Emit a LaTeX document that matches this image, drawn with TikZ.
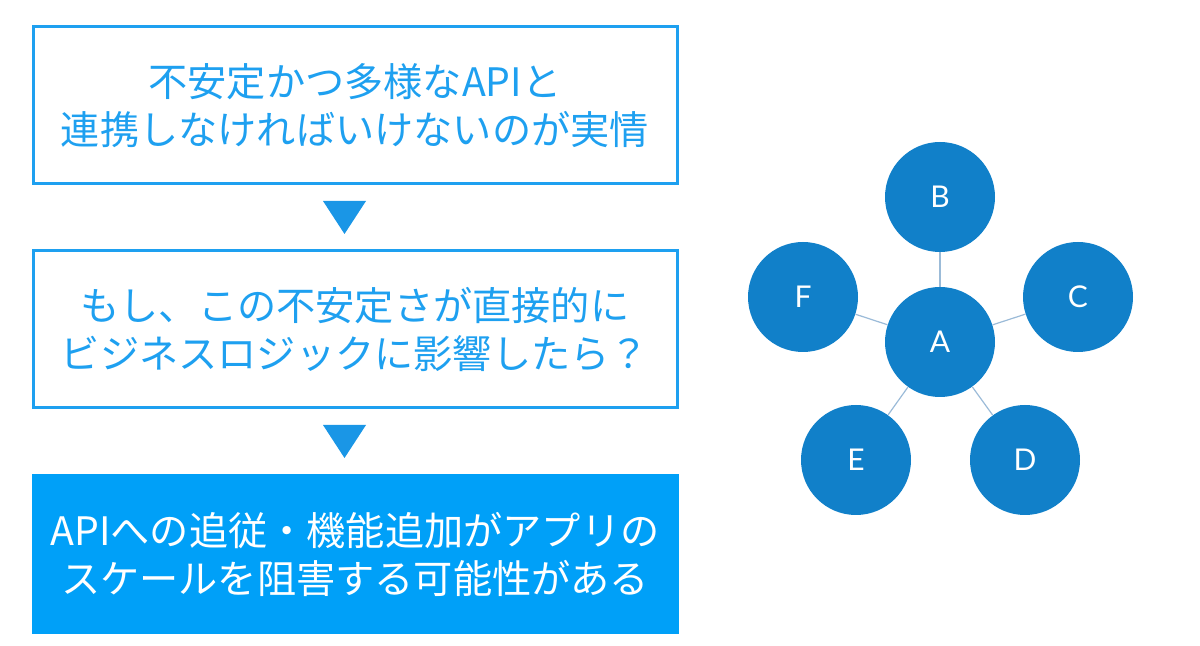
\documentclass[tikz,border=0pt]{standalone}
\usepackage{fontspec}
\newfontfamily\jpfont{Noto Sans CJK JP}
\newfontfamily\latinfont{Lato}
\definecolor{boxblue}{HTML}{1EA0F0}
\definecolor{fillblue}{HTML}{00A0F8}
\definecolor{tipblue}{HTML}{1A96E6}
\definecolor{nodeblue}{HTML}{1180C9}
\definecolor{linkblue}{HTML}{9BBBD8}
\begin{document}
\begin{tikzpicture}[x=0.5pt, y=-0.5pt,
    stepbox/.style={draw=boxblue, line width=1.5pt, minimum width=322pt, minimum height=78.5pt,
        align=center, font=\jpfont\fontsize{19.6}{24}\selectfont, text=boxblue},
    endbox/.style={stepbox, fill=fillblue, draw=fillblue, text=white},
    hub/.style={circle, fill=nodeblue, minimum size=55pt, inner sep=0pt,
        text=white, font=\latinfont\fontsize{15}{15}\selectfont},
    link/.style={draw=linkblue, line width=0.6pt}]
    \useasboundingbox (0, 0) rectangle (1200, 646);

    % flow on the left
    \node[stepbox] (first) at (355, 105.5) {不安定かつ多様なAPIと\\連携しなければいけないのが実情};
    \node[stepbox] (second) at (355, 329.5) {もし、この不安定さが直接的に\\ビジネスロジックに影響したら？};
    \node[endbox] (third) at (355, 554) {APIへの追従・機能追加がアプリの\\スケールを阻害する可能性がある};

    \fill[tipblue] (323, 201) -- (366, 201) -- (344.5, 234) -- cycle;
    \fill[tipblue] (323, 425) -- (366, 425) -- (344.5, 458) -- cycle;

    % graph on the right
    \node[hub] (a) at (940, 342) {A};
    \node[hub] (b) at (940, 197) {B};
    \node[hub] (c) at (1078, 297) {C};
    \node[hub] (d) at (1025, 460) {D};
    \node[hub] (e) at (856, 460) {E};
    \node[hub] (f) at (803, 297) {F};

    \draw[link] (a) -- (b);
    \draw[link] (a) -- (c);
    \draw[link] (a) -- (d);
    \draw[link] (a) -- (e);
    \draw[link] (a) -- (f);

\end{tikzpicture}
\end{document}
